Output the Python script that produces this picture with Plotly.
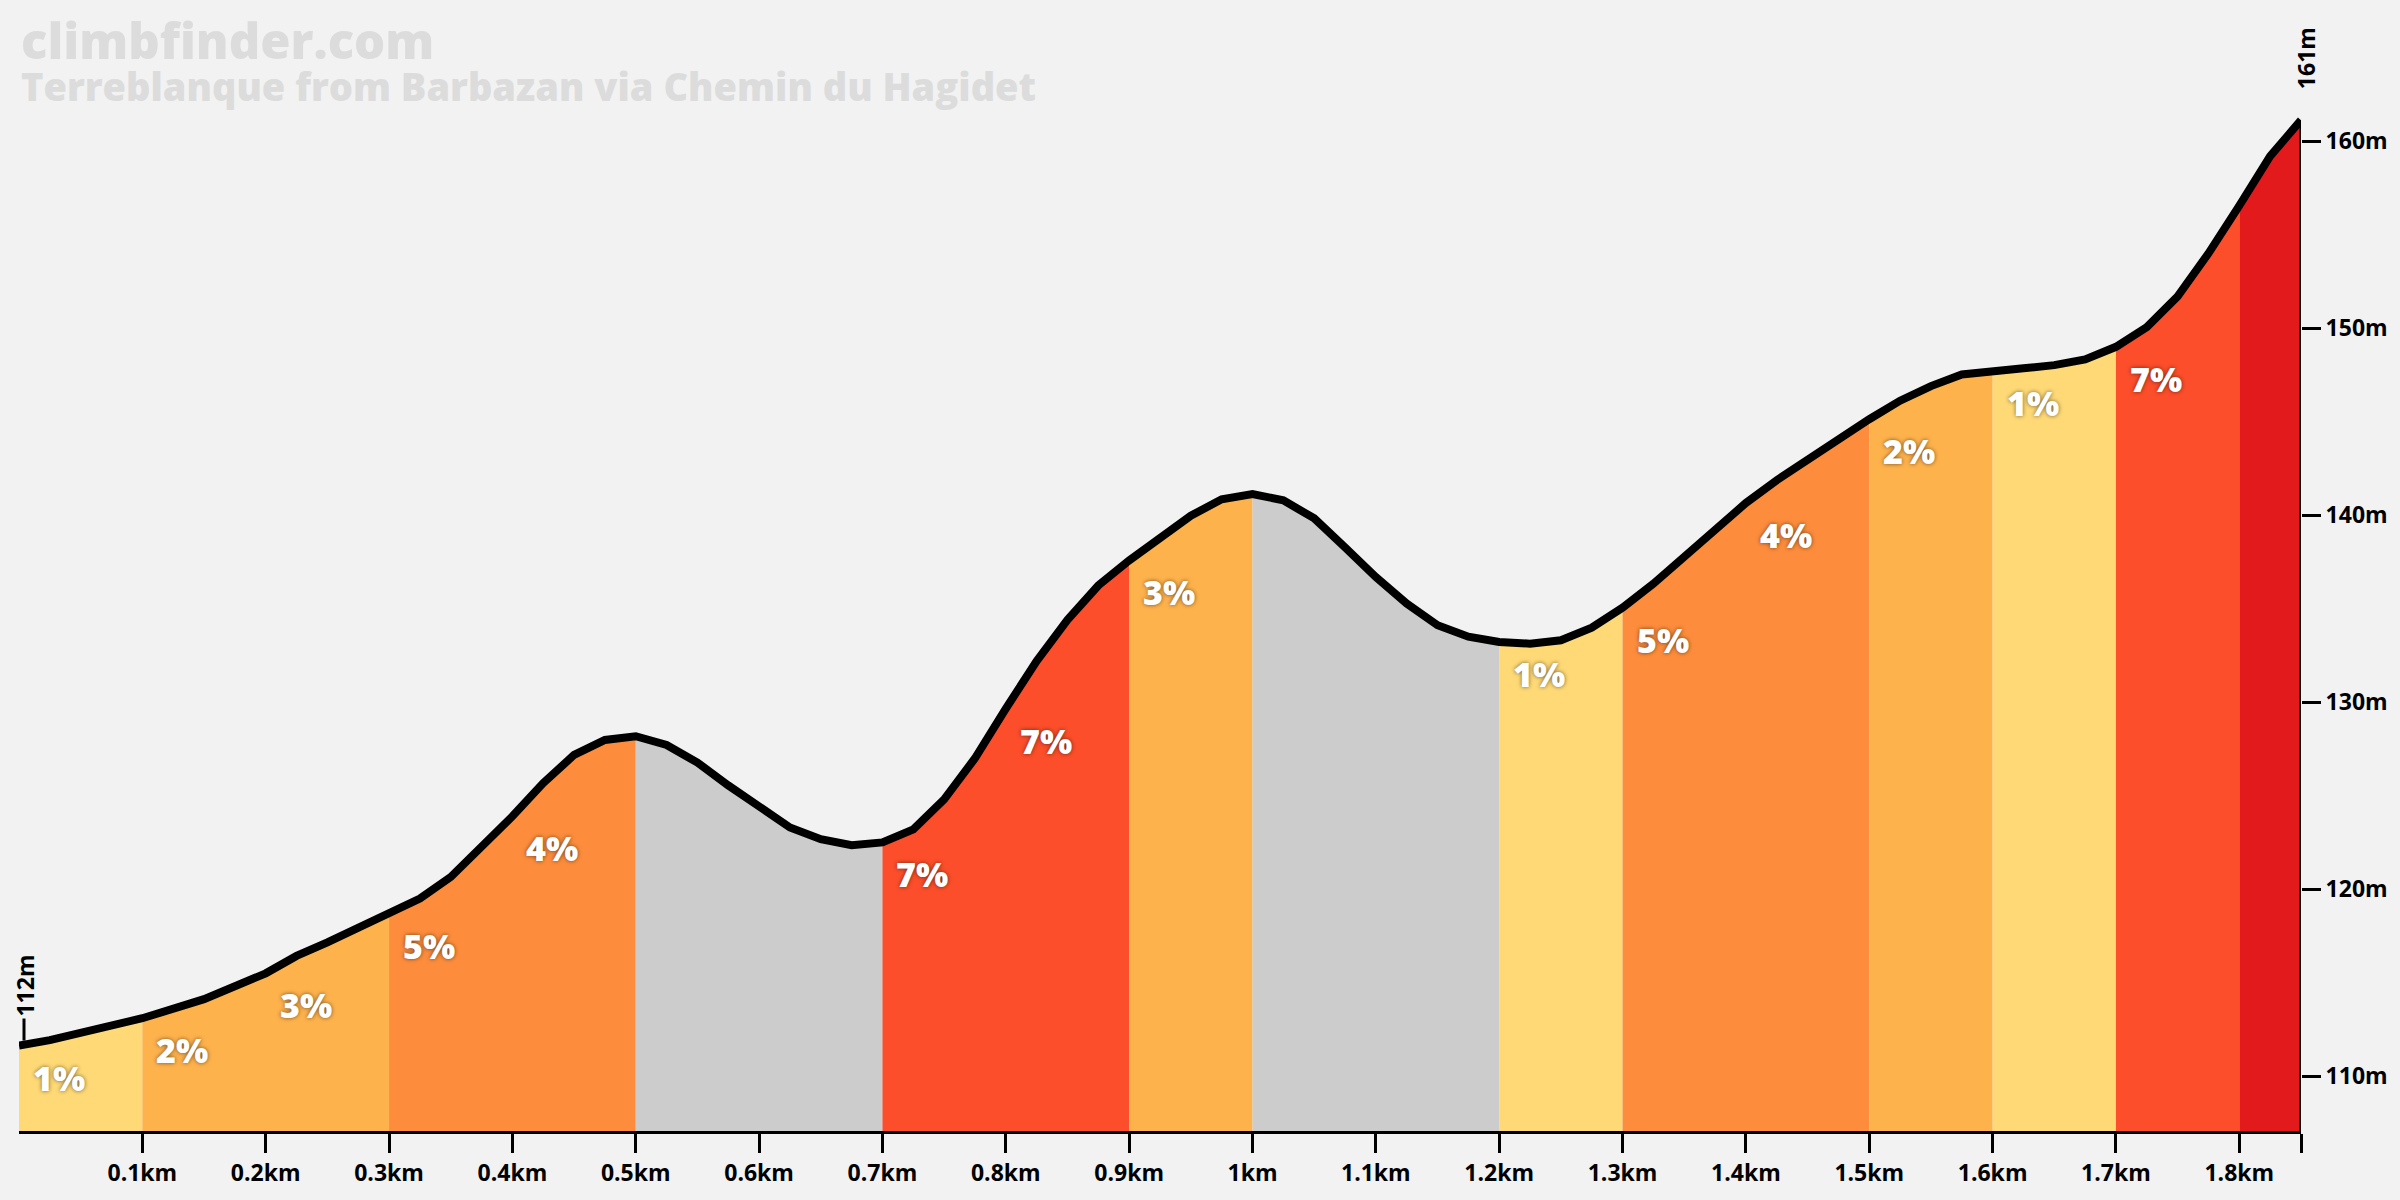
import math
import plotly.graph_objects as go

# ---------------- data ----------------
title_text = "climbfinder.com"
subtitle_text = "Terreblanque from Barbazan via Chemin du Hagidet"

dist_km = [0.0, 0.025, 0.1, 0.15, 0.2, 0.225, 0.25, 0.3, 0.325, 0.35, 0.375, 0.4,
           0.425, 0.45, 0.475, 0.5, 0.525, 0.55, 0.575, 0.6, 0.625, 0.65, 0.675,
           0.7, 0.725, 0.75, 0.775, 0.8, 0.825, 0.85, 0.875, 0.9, 0.925, 0.95,
           0.975, 1.0, 1.025, 1.05, 1.075, 1.1, 1.125, 1.15, 1.175, 1.2, 1.225,
           1.25, 1.275, 1.3, 1.325, 1.35, 1.375, 1.4, 1.425, 1.45, 1.475, 1.5,
           1.525, 1.55, 1.575, 1.6, 1.625, 1.65, 1.675, 1.7, 1.725, 1.75, 1.775,
           1.8, 1.825, 1.85]
elev_m = [111.64, 111.93, 113.1, 114.12, 115.5, 116.43, 117.15, 118.65, 119.5,
          120.65, 122.25, 123.9, 125.67, 127.18, 127.98, 128.18, 127.71, 126.77,
          125.55, 124.36, 123.3, 122.67, 122.35, 122.5, 123.2, 124.8, 127.0,
          129.65, 132.2, 134.4, 136.24, 137.58, 138.77, 139.97, 140.85, 141.13,
          140.79, 139.83, 138.28, 136.69, 135.27, 134.11, 133.5, 133.22, 133.13,
          133.31, 133.98, 135.05, 136.33, 137.8, 139.23, 140.65, 141.87, 142.99,
          144.06, 145.13, 146.12, 146.9, 147.52, 147.73, 147.85, 148.02, 148.33,
          149.0, 150.06, 151.7, 154.0, 156.55, 159.2, 161.12]

segment_bounds = [0.0, 0.1, 0.2, 0.3, 0.4, 0.5, 0.6, 0.7, 0.8, 0.9, 1.0, 1.1,
                  1.2, 1.3, 1.4, 1.5, 1.6, 1.7, 1.8, 1.85]

x_tick_vals = [0.1, 0.2, 0.3, 0.4, 0.5, 0.6, 0.7, 0.8, 0.9, 1.0, 1.1, 1.2,
               1.3, 1.4, 1.5, 1.6, 1.7, 1.8]
y_tick_vals = [110, 120, 130, 140, 150, 160]

# ---------------- style ----------------
BG = "#F2F2F2"
FONT = "Open Sans"
Y_MIN, Y_MAX = 107.07, 163.0


def grade_colour(g):
    if g < 0:
        return "#CCCCCC"
    if g < 2:
        return "#FED976"
    if g < 4:
        return "#FEB24C"
    if g < 6:
        return "#FD8D3C"
    if g < 8:
        return "#FC4E2A"
    return "#E31A1C"


def idx_of(d):
    return min(range(len(dist_km)), key=lambda i: abs(dist_km[i] - d))


# build segments
segs = []
for a, b in zip(segment_bounds[:-1], segment_bounds[1:]):
    ia, ib = idx_of(a), idx_of(b)
    g = (elev_m[ib] - elev_m[ia]) / ((b - a) * 1000) * 100
    segs.append(dict(a=a, b=b, ia=ia, ib=ib, grade=g, colour=grade_colour(g)))

fig = go.Figure()

# merge consecutive same-colour segments into one fill
groups = []
for s in segs:
    if groups and groups[-1]["colour"] == s["colour"]:
        groups[-1]["ib"] = s["ib"]
    else:
        groups.append(dict(ia=s["ia"], ib=s["ib"], colour=s["colour"]))

for gr in groups:
    xs = dist_km[gr["ia"]:gr["ib"] + 1]
    ys = elev_m[gr["ia"]:gr["ib"] + 1]
    fig.add_trace(go.Scatter(x=xs, y=ys, mode="lines", line=dict(width=0),
                             fill="tozeroy", fillcolor=gr["colour"],
                             hoverinfo="skip", showlegend=False))

fig.add_trace(go.Scatter(x=dist_km, y=elev_m, mode="lines",
                         line=dict(color="black", width=8),
                         hoverinfo="skip", showlegend=False))

annotations = []
for s in segs:
    if s["grade"] > 0 and (s["b"] - s["a"]) > 0.099:
        annotations.append(dict(
            x=s["a"], y=elev_m[s["ia"]], xref="x", yref="y",
            text=f"{math.floor(s['grade'] + 1e-9)}%", showarrow=False,
            xanchor="left", yanchor="middle", xshift=12, yshift=-32,
            font=dict(family=FONT, size=34, color="white", weight=800,
                      shadow="0px 0px 4px rgba(0,0,0,0.55)")))

# start / end markers
start_e, end_e = elev_m[0], elev_m[-1]
annotations.append(dict(x=dist_km[0], y=start_e, xref="x", yref="y",
                        text=f"{round(start_e)}m", textangle=-90, showarrow=False,
                        xanchor="center", yanchor="middle", xshift=6, yshift=60,
                        font=dict(family=FONT, size=23, color="black", weight=700)))
annotations.append(dict(x=dist_km[-1], y=end_e, xref="x", yref="y",
                        text=f"{round(end_e)}m", textangle=-90, showarrow=False,
                        xanchor="center", yanchor="middle", xshift=5, yshift=62,
                        font=dict(family=FONT, size=23, color="black", weight=700)))

# titles
annotations.append(dict(x=0, y=1, xref="paper", yref="paper", text=title_text,
                        showarrow=False, xanchor="left", yanchor="middle",
                        xshift=0, yshift=45,
                        font=dict(family=FONT, size=49, color="#DCDCDC", weight=800)))
annotations.append(dict(x=0, y=1, xref="paper", yref="paper", text=subtitle_text,
                        showarrow=False, xanchor="left", yanchor="middle",
                        xshift=0, yshift=-1,
                        font=dict(family=FONT, size=38, color="#DCDCDC", weight=800)))

shapes = [
    dict(type="line", xref="x", yref="y", x0=dist_km[-1], x1=dist_km[-1],
         y0=Y_MIN, y1=end_e, line=dict(color="black", width=3)),
    dict(type="line", xref="x", yref="y", xsizemode="pixel", ysizemode="pixel",
         xanchor=dist_km[0], yanchor=start_e, x0=5, x1=5, y0=5, y1=27,
         line=dict(color="black", width=3)),
    dict(type="line", xref="x", yref="y", xsizemode="pixel", ysizemode="pixel",
         xanchor=dist_km[-1], yanchor=end_e, x0=5, x1=5, y0=1, y1=26,
         line=dict(color="black", width=3)),
]

fig.update_layout(
    width=2400, height=1200,
    paper_bgcolor=BG, plot_bgcolor=BG,
    margin=dict(l=19, r=99, t=85, b=66),
    annotations=annotations, shapes=shapes,
    xaxis=dict(range=[0, dist_km[-1]],
               tickvals=x_tick_vals + [dist_km[-1]],
               ticktext=[f"{v:g}km" for v in x_tick_vals] + [""],
               ticks="outside", ticklen=19, tickwidth=3, tickcolor="black",
               showline=True, linewidth=3, linecolor="black",
               showgrid=False, zeroline=False,
               tickfont=dict(family=FONT, size=23, color="black", weight=700)),
    yaxis=dict(range=[Y_MIN, Y_MAX], side="right",
               tickvals=y_tick_vals, ticktext=[f"{v}m" for v in y_tick_vals],
               ticks="outside", ticklen=19, tickwidth=3, tickcolor="black",
               showline=False, showgrid=False, zeroline=False,
               tickfont=dict(family=FONT, size=23, color="black", weight=700)),
)

fig.write_html("out.html")
